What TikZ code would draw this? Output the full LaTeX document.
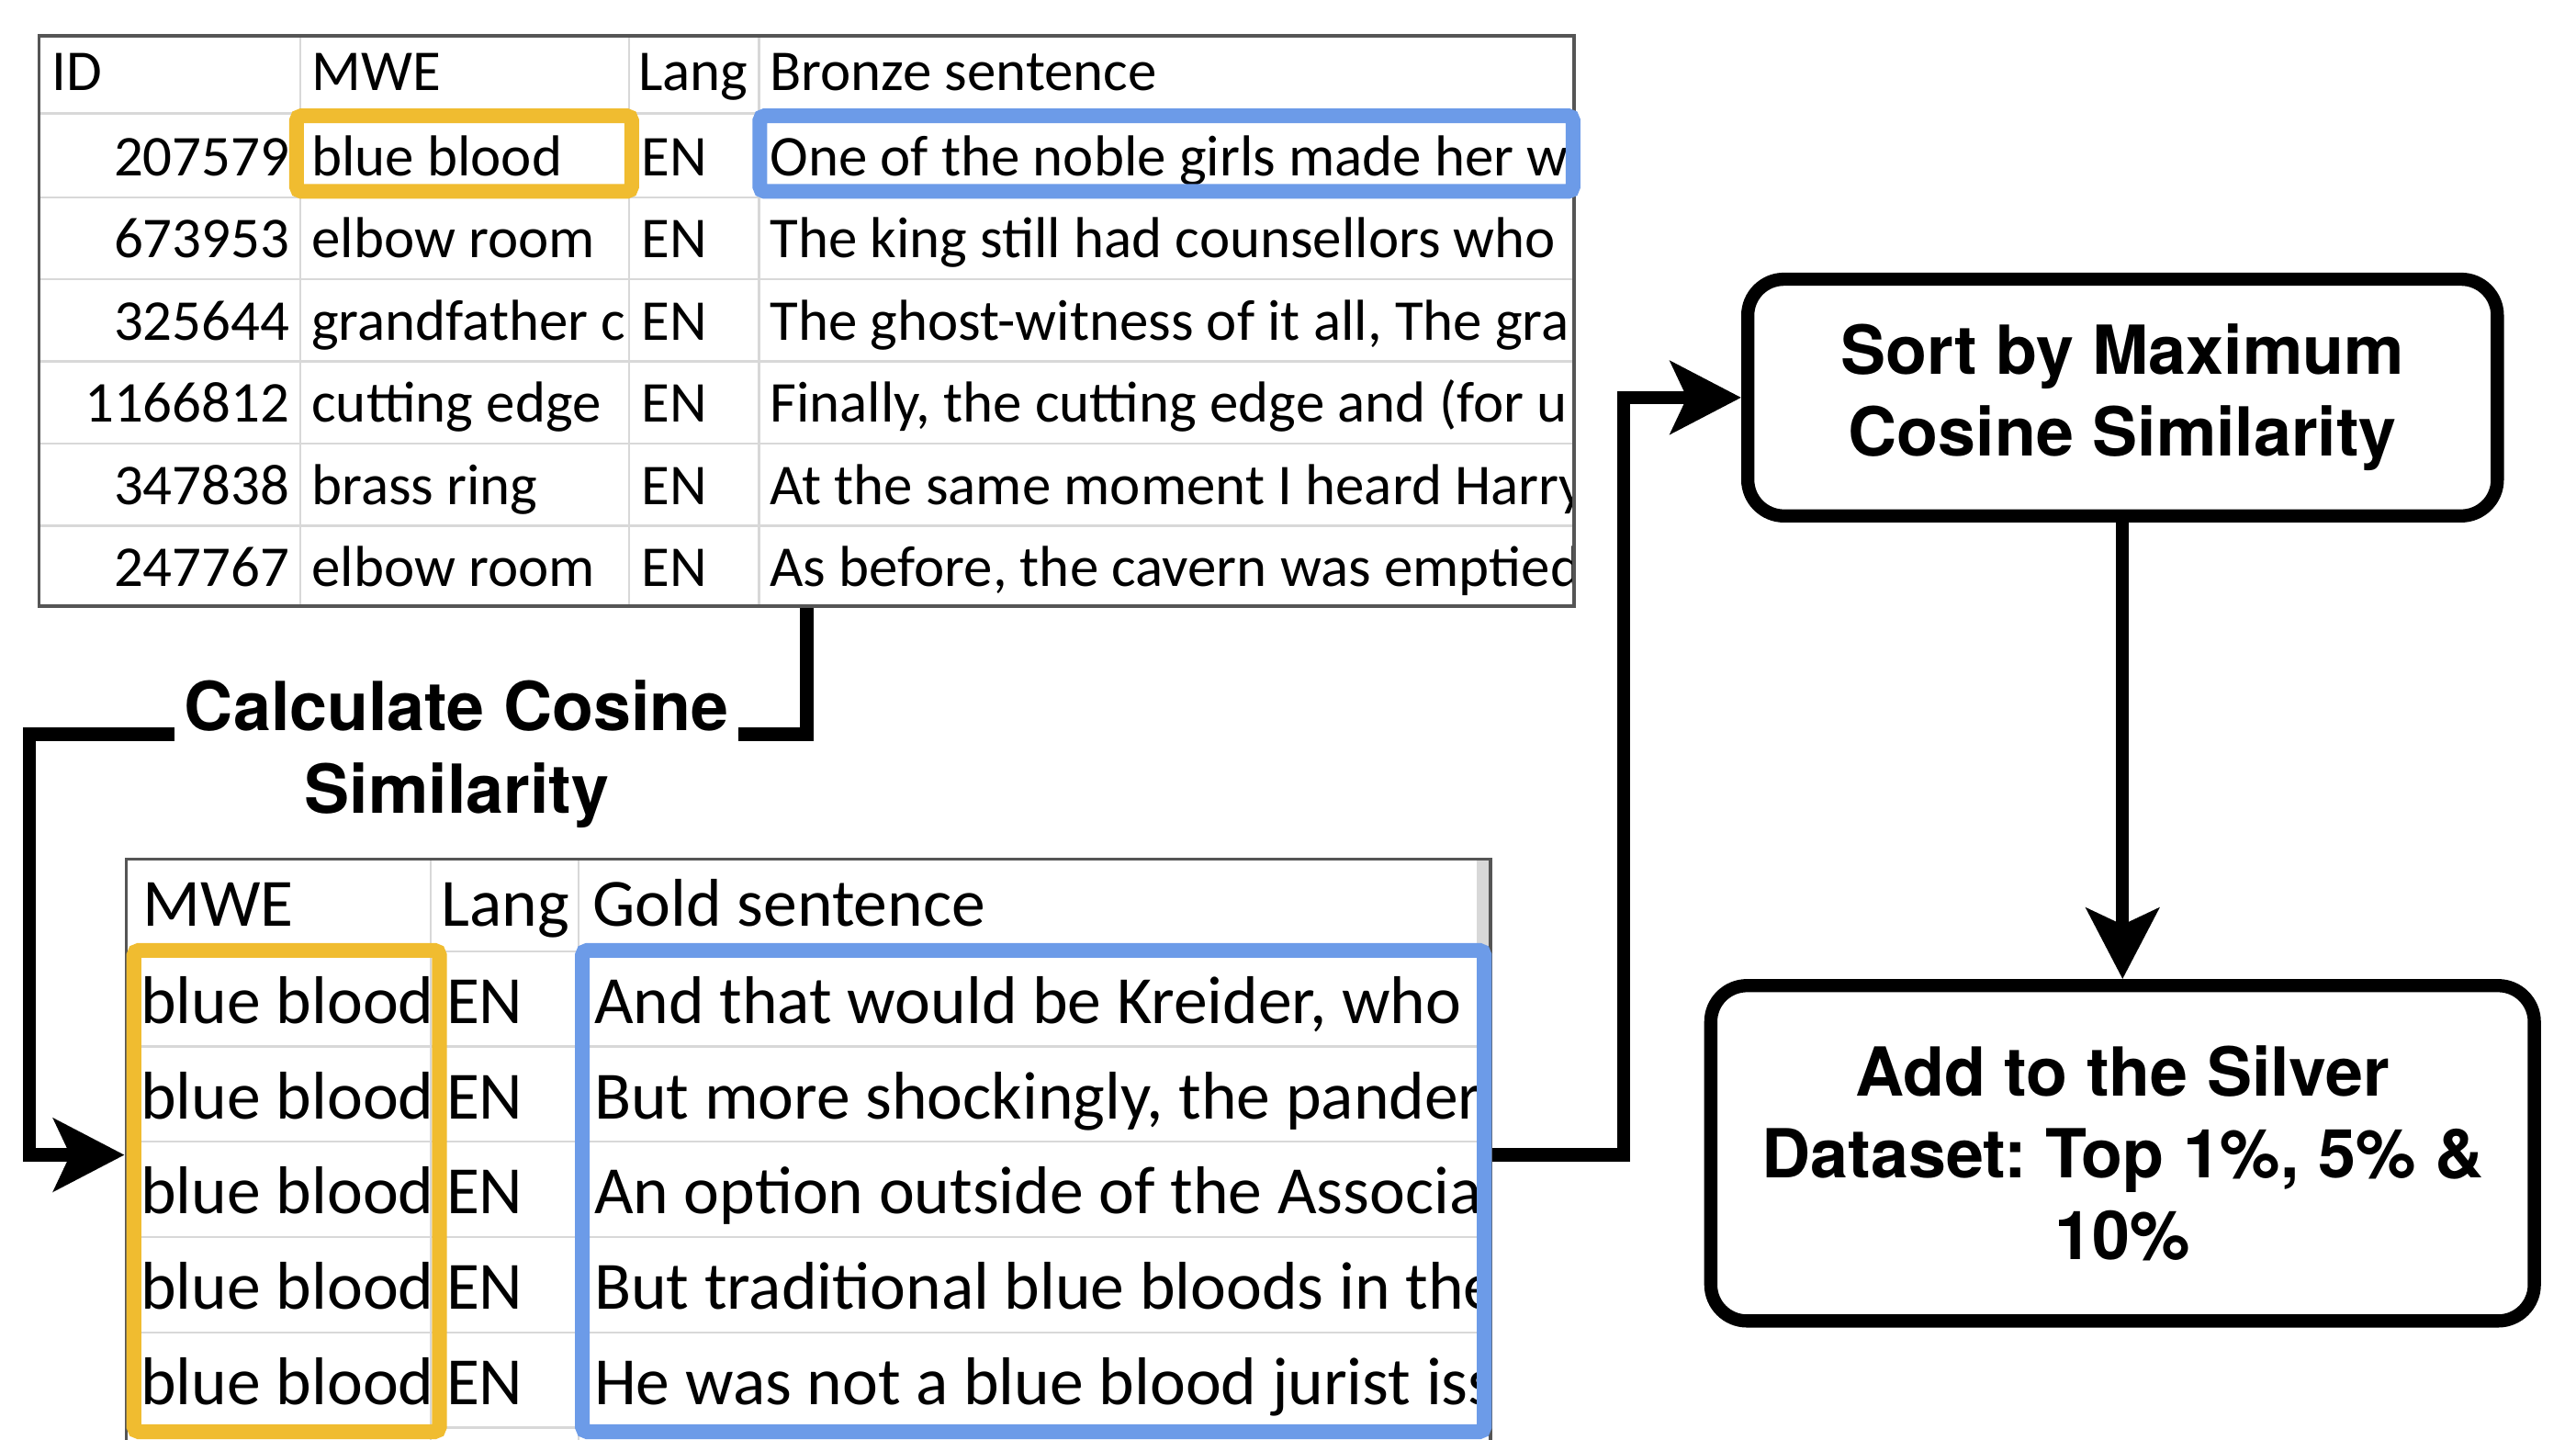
\documentclass[tikz,border=0pt]{standalone}
\usepackage{fontspec}
\setmainfont{Carlito}
\newfontfamily\labelfont{TeX Gyre Heros}
\usetikzlibrary{arrows.meta}
\definecolor{hlorange}{HTML}{F0BC30}
\definecolor{hlblue}{HTML}{6C9BE8}
\definecolor{gridgray}{HTML}{D8D8D8}
\definecolor{edgegray}{HTML}{555555}
\frenchspacing

\begin{document}
\begin{tikzpicture}[x=0.01cm, y=-0.01cm,
    cell/.style={inner sep=0pt, font=\fontsize{10}{12}\selectfont},
    gcell/.style={inner sep=0pt, font=\fontsize{11.7}{13}\selectfont},
    sheet/.style={draw=edgegray, line width=0.02cm, inner sep=0pt},
    gridline/.style={gridgray, line width=0.012cm},
    hlbox/.style={line width=0.09cm, rounded corners=0.03cm},
    bold/.style={font=\labelfont\bfseries\fontsize{11.7}{14.2}\selectfont, align=center},
    stepbox/.style={bold, draw, line width=0.08cm, rounded corners=0.22cm},
    flow/.style={line width=0.08cm, -{Stealth[length=0.43cm, width=0.44cm, inset=0.1cm]}}]
  \useasboundingbox (0,0) rectangle (1568,876);

  % bronze sheet
  \begin{scope}[gridline]
    \draw (24,69) -- (958,69);
    \draw (24,120) -- (958,120);
    \draw (24,170) -- (958,170);
    \draw (24,220) -- (958,220);
    \draw (24,270) -- (958,270);
    \draw (24,320) -- (958,320);
    \draw (183,22) -- (183,369);
    \draw (383,22) -- (383,369);
    \draw (462,22) -- (462,369);
  \end{scope}
  \node[sheet, minimum width=9.34cm, minimum height=3.47cm] (bronze) at (491,195.5) {};

  \draw
    (31,55) node[cell, anchor=base west] (bid0) {ID}
    (177,107) node[cell, anchor=base east] (bid1) {207579}
    (177,157) node[cell, anchor=base east] (bid2) {673953}
    (177,207) node[cell, anchor=base east] (bid3) {325644}
    (177,257) node[cell, anchor=base east] (bid4) {1166812}
    (177,307) node[cell, anchor=base east] (bid5) {347838}
    (177,357) node[cell, anchor=base east] (bid6) {247767};
  \begin{scope}
    \clip (183,22) rectangle (383,369);
    \draw
      (189,55) node[cell, anchor=base west] (bmwe0) {MWE}
      (189,107) node[cell, anchor=base west] (bmwe1) {blue blood}
      (189,157) node[cell, anchor=base west] (bmwe2) {elbow room}
      (189,207) node[cell, anchor=base west] (bmwe3) {grandfather c}
      (189,257) node[cell, anchor=base west] (bmwe4) {cutting edge}
      (189,307) node[cell, anchor=base west] (bmwe5) {brass ring}
      (189,357) node[cell, anchor=base west] (bmwe6) {elbow room};
  \end{scope}
  \draw
    (388,55) node[cell, anchor=base west] (blang0) {Lang}
    (390,107) node[cell, anchor=base west] (blang1) {EN}
    (390,157) node[cell, anchor=base west] (blang2) {EN}
    (390,207) node[cell, anchor=base west] (blang3) {EN}
    (390,257) node[cell, anchor=base west] (blang4) {EN}
    (390,307) node[cell, anchor=base west] (blang5) {EN}
    (390,357) node[cell, anchor=base west] (blang6) {EN};
  \begin{scope}
    \clip (462,22) rectangle (957,369);
    \draw
      (468,55) node[cell, anchor=base west] (bsent0) {Bronze sentence}
      (468,107) node[cell, anchor=base west] (bsent1) {One of the noble girls made her w}
      (468,157) node[cell, anchor=base west] (bsent2) {The king still had counsellors who}
      (468,207) node[cell, anchor=base west] (bsent3) {The ghost-witness of it all, The gra}
      (468,257) node[cell, anchor=base west] (bsent4) {Finally, the cutting edge and (for u}
      (468,307) node[cell, anchor=base west] (bsent5) {At the same moment I heard Harry}
      (468,357) node[cell, anchor=base west] (bsent6) {As before, the cavern was emptied};
  \end{scope}

  % gold sheet
  \begin{scope}[gridline]
    \draw (77,579) -- (907,579);
    \draw (77,637) -- (907,637);
    \draw (77,695) -- (907,695);
    \draw (77,753) -- (907,753);
    \draw (77,811) -- (907,811);
    \draw (77,869) -- (907,869);
    \draw (262,523) -- (262,883);
    \draw (352,523) -- (352,883);
    \fill (899,524) rectangle (906,577);
  \end{scope}
  \node[sheet, minimum width=8.30cm, minimum height=3.60cm] (gold) at (492,703) {};

  \draw
    (86,564) node[gcell, anchor=base west] (gmwe0) {MWE}
    (85,623) node[gcell, anchor=base west] (gmwe1) {blue blood}
    (85,681) node[gcell, anchor=base west] (gmwe2) {blue blood}
    (85,739) node[gcell, anchor=base west] (gmwe3) {blue blood}
    (85,797) node[gcell, anchor=base west] (gmwe4) {blue blood}
    (85,855) node[gcell, anchor=base west] (gmwe5) {blue blood}
    (268,564) node[gcell, anchor=base west] (glang0) {Lang}
    (271,623) node[gcell, anchor=base west] (glang1) {EN}
    (271,681) node[gcell, anchor=base west] (glang2) {EN}
    (271,739) node[gcell, anchor=base west] (glang3) {EN}
    (271,797) node[gcell, anchor=base west] (glang4) {EN}
    (271,855) node[gcell, anchor=base west] (glang5) {EN};
  \begin{scope}
    \clip (352,523) rectangle (903,876);
    \draw
      (360,564) node[gcell, anchor=base west] (gsent0) {Gold sentence}
      (361,623) node[gcell, anchor=base west] (gsent1) {And that would be Kreider, who}
      (361,681) node[gcell, anchor=base west] (gsent2) {But more shockingly, the pander}
      (361,739) node[gcell, anchor=base west] (gsent3) {An option outside of the Associa}
      (361,797) node[gcell, anchor=base west] (gsent4) {But traditional blue bloods in the}
      (361,855) node[gcell, anchor=base west] (gsent5) {He was not a blue blood jurist iss};
  \end{scope}

  % steps
  \node[stepbox, minimum width=4.56cm, minimum height=1.44cm] (sort) at (1292,242) {Sort by Maximum\\Cosine Similarity};
  \node[stepbox, minimum width=5.01cm, minimum height=2.04cm] (silver) at (1292,702) {Add to the Silver\\Dataset: Top 1\%, 5\% \&\\10\%};

  \coordinate (bend) at (18,447);
  \draw[flow] (bronze.south) |- (bend) |- (gold.west);
  \draw[flow] (gold.east) -- ++(80,0) |- (sort.west);
  \draw[flow] (sort) -- (silver);

  \draw[hlbox, hlorange] (180.5,70.5) rectangle (384.5,116.5);
  \draw[hlbox, hlblue] (462.5,70.5) rectangle (957.5,116.5);
  \draw[hlbox, hlorange] (81.5,578.5) rectangle (267.5,871.5);
  \draw[hlbox, hlblue] (354.5,578.5) rectangle (903.5,871.5);

  \node[bold, fill=white, inner xsep=0.06cm, inner ysep=0.02cm] (calc) at (278,459) {Calculate Cosine\\Similarity};
\end{tikzpicture}
\end{document}
